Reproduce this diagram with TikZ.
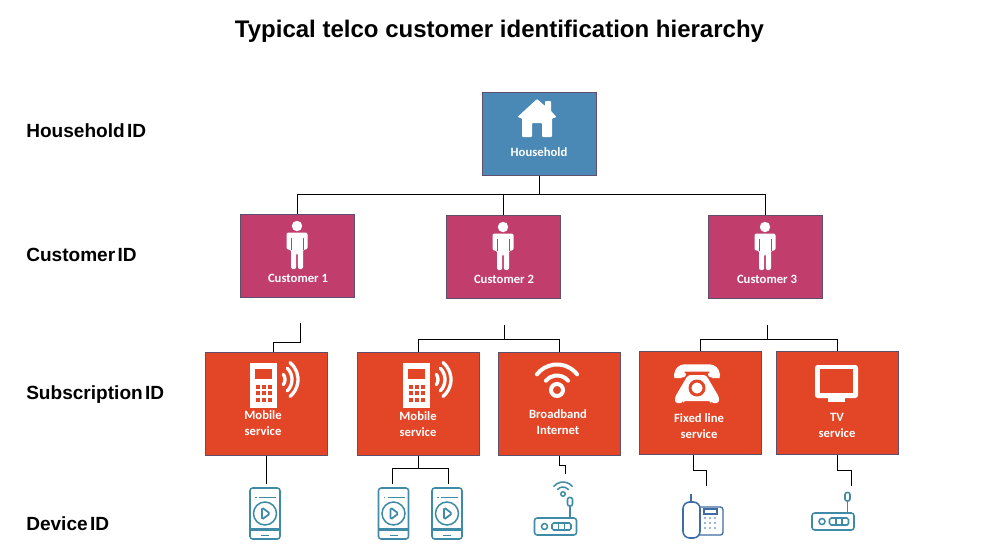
\documentclass[tikz,border=0pt]{standalone}
\usepackage{fontspec}
\setmainfont{Liberation Sans}
\newfontfamily\boxfamily{Carlito}
\newcommand{\idfont}{\fontsize{14.3}{16}\selectfont\bfseries\setlength{\spaceskip}{0.12em}}
\begin{document}
\begin{tikzpicture}[x=0.75pt,y=-0.75pt]
	\definecolor{hhblue}{HTML}{4A88B5}
	\definecolor{custpink}{HTML}{C13D6C}
	\definecolor{svcred}{HTML}{E34527}
	\definecolor{boxedge}{HTML}{5F4F6E}
	\definecolor{devteal}{HTML}{3F8AA6}
	\definecolor{devblue}{HTML}{3F6CA3}
	\tikzstyle{hhbox}=[draw=boxedge,fill=hhblue,line width=0.7pt,minimum width=85.9pt,minimum height=62.7pt,inner sep=0pt]
	\tikzstyle{custbox}=[hhbox,fill=custpink]
	\tikzstyle{svcbox}=[hhbox,fill=svcred,minimum width=91.1pt,minimum height=77.7pt]
	\tikzstyle{idlabel}=[anchor=base west,inner sep=0pt,font=\idfont]
	\tikzstyle{boxtext}=[text=white,align=center,inner sep=0pt,font=\fontsize{9.5}{12}\selectfont\boxfamily\bfseries]
	\tikzstyle{link}=[draw=black,line width=0.85pt]
	\tikzstyle{devline}=[draw=devteal,line width=1.15pt,rounded corners=1.2pt]
	\tikzset{
		houseicon/.pic={
			\fill[white,rounded corners=0.6pt] (0,-19) -- (8,-12) -- (8,-17) -- (14,-17) -- (14,-7) -- (19.5,-1) -- (15,0.5) -- (15,19) -- (5,19) -- (5,5) -- (-5,5) -- (-5,19) -- (-15,19) -- (-15,0.5) -- (-19.5,-1) -- cycle;
		},
		personicon/.pic={
			\fill[white] (0,-18) circle (5.2);
			\fill[white,rounded corners=1.5pt] (-10.5,-11.5) -- (10.5,-11.5) -- (10.5,5.5) -- (6,5.5) -- (6,25) -- (0.8,25) -- (0.8,9) -- (-0.8,9) -- (-0.8,25) -- (-6,25) -- (-6,5.5) -- (-10.5,5.5) -- cycle;
			\draw[custpink,line width=0.5pt] (-6,-6) -- (-6,5.5);
			\draw[custpink,line width=0.5pt] (6,-6) -- (6,5.5);
		},
		mobileicon/.pic={
			\fill[white] (-13.5,-22.5) rectangle (13.5,22.5);
			\fill[svcred] (-8.5,-16.5) rectangle (8.5,-6.5);
			\foreach \kx in {-6,0,6}
				\foreach \ky in {1.5,7.5,14.5}
					\fill[svcred] (\kx-2,\ky-2) rectangle (\kx+2,\ky+2);
			\draw[white,line width=2.5pt,line cap=round] (12.5,-6) ++(-35:9) arc[start angle=-35,end angle=35,radius=9];
			\draw[white,line width=2.5pt,line cap=round] (12.5,-6) ++(-45:16) arc[start angle=-45,end angle=45,radius=16];
			\draw[white,line width=2.5pt,line cap=round] (12.5,-6) ++(-50:22) arc[start angle=-50,end angle=50,radius=22];
		},
		wifiicon/.pic={
			\draw[white,line width=3pt] (0,0) circle (6);
			\draw[white,line width=3pt,line cap=round] (0,0) ++(-40:14.5) arc[start angle=-40,end angle=-140,radius=14.5];
			\draw[white,line width=3pt,line cap=round] (0,0) ++(-38:25.5) arc[start angle=-38,end angle=-142,radius=25.5];
		},
		deskicon/.pic={
			\draw[white,line width=5.5pt,rounded corners=5pt] (-19,-10) -- (-19,-20) -- (19,-20) -- (19,-10);
			\fill[white,rounded corners=2pt] (-23,-16) -- (-11,-16) -- (-11,-11) -- (-23,-10) -- cycle;
			\fill[white,rounded corners=2pt] (23,-16) -- (11,-16) -- (11,-11) -- (23,-10) -- cycle;
			\fill[white,rounded corners=2pt] (-9,-13) -- (9,-13) -- (22,9) -- (22,15) -- (14,15) -- (14,13) -- (-14,13) -- (-14,15) -- (-22,15) -- (-22,9) -- cycle;
			\draw[svcred,line width=2.2pt] (0,0) circle (7);
		},
		screenicon/.pic={
			\fill[white,rounded corners=2pt] (-21.5,-16.5) rectangle (21.5,16.5);
			\fill[white] (-8.5,16) rectangle (8.5,20.5);
			\fill[svcred] (-16.5,-12.5) rectangle (16.5,11.5);
		},
		handseticon/.pic={
			\draw[devline,rounded corners=2pt] (-15,-25.5) rectangle (15,25.5);
			\draw[devline] (-15,15.5) -- (15,15.5);
			\draw[devline] (-15,17) -- (15,17);
			\draw[devline] (-4,22) -- (4,22);
			\draw[devline] (-10,-16) -- (-8.5,-16);
			\draw[devline] (-6,-16) -- (11,-16);
			\draw[devline] (0,0) circle (11.5);
			\draw[devline,line width=1.3pt] (-3,-6) -- (5,0) -- (-3,6) -- cycle;
		},
		routericon/.pic={
			\draw[devline,rounded corners=2pt] (-21,-8.5) rectangle (21,8.5);
			\draw[devline] (-11,0) circle (3);
			\draw[devline] (-3.5,-3.5) rectangle (15.5,3.5);
			\draw[devline] (3,-3.5) -- (3,3.5);
			\draw[devline] (9,-3.5) -- (9,3.5);
			\draw[devline] (14.5,-8.5) -- (14.5,-20.5);
			\draw[devline,rounded corners=1.5pt] (12,-29) rectangle (17,-20.5);
		},
		signalicon/.pic={
			\draw[devline] (0,0) circle (2.2);
			\draw[devline,line cap=round] (0,0) ++(-40:7) arc[start angle=-40,end angle=-140,radius=7];
			\draw[devline,line cap=round] (0,0) ++(-40:12) arc[start angle=-40,end angle=-140,radius=12];
		},
		fixedicon/.pic={
			\draw[draw=devblue,line width=1pt,rounded corners=2pt] (-11,-13) rectangle (20,15);
			\draw[draw=devblue,line width=1.2pt,rounded corners=5pt,fill=white] (-20,-18) rectangle (-3,18);
			\draw[draw=devblue,line width=1pt] (-12,-18) -- (-12,-26);
			\draw[draw=devblue,line width=1pt] (1,-11) rectangle (14,-6);
			\foreach \kx in {2,7,12}
				\foreach \ky in {-2,3,8}
					\fill[devblue] (\kx,\ky) circle (0.9);
		}
	}

	\useasboundingbox (0,0) rectangle (984,553);

	\node [font=\fontsize{18}{22}\selectfont\bfseries,inner sep=0pt] (title) at (499.5,31.5) {Typical telco customer identification hierarchy};

	\node [idlabel] (lblhh) at (26,137) {Household ID};
	\node [idlabel] (lblcust) at (26,261) {Customer ID};
	\node [idlabel] (lblsub) at (26,399) {Subscription ID};
	\node [idlabel] (lbldev) at (26,530) {Device ID};

	\node [hhbox] (hh) at (539.5,134) {};
	\node [custbox] (c1) at (297.5,256) {};
	\node [custbox] (c2) at (503.5,257) {};
	\node [custbox] (c3) at (765.5,257) {};
	\node [svcbox] (mob1) at (266.5,404) {};
	\node [svcbox] (mob2) at (418.5,404) {};
	\node [svcbox] (bb) at (559.5,404) {};
	\node [svcbox] (fx) at (700.5,403) {};
	\node [svcbox] (tv) at (837.5,403) {};

	\pic at (537,118) {houseicon};
	\pic at (297,244) {personicon};
	\pic at (503,245) {personicon};
	\pic at (765,245) {personicon};
	\pic at (263.5,385.5) {mobileicon};
	\pic at (416.5,385.5) {mobileicon};
	\pic at (557,390) {wifiicon};
	\pic at (697,388) {deskicon};
	\pic at (836.5,381.5) {screenicon};

	\node [boxtext] (hhtxt) at (539,152) {Household};
	\node [boxtext] (c1txt) at (298,278) {Customer 1};
	\node [boxtext] (c2txt) at (504,279) {Customer 2};
	\node [boxtext] (c3txt) at (767,279) {Customer 3};
	\node [boxtext] (mob1txt) at (263,423) {Mobile\\service};
	\node [boxtext] (mob2txt) at (418,424) {Mobile\\service};
	\node [boxtext] (bbtxt) at (558,422) {Broadband\\Internet};
	\node [boxtext] (fxtxt) at (699,426) {Fixed line\\service};
	\node [boxtext] (tvtxt) at (837,425) {TV\\service};

	\pic at (265,513.5) {handseticon};
	\pic at (393.5,513.5) {handseticon};
	\pic at (447,513.5) {handseticon};
	\pic at (555.5,526.5) {routericon};
	\pic at (563,494) {signalicon};
	\pic at (703,520) {fixedicon};
	\pic at (833,521.5) {routericon};

	\coordinate (hhbus) at (539.5,194.5);
	\coordinate (c1stub) at (300.5,323);
	\coordinate (c1bend) at (273.5,342.5);
	\coordinate (mob1in) at (273.5,352);
	\coordinate (c2stub) at (504.5,325);
	\coordinate (c2bus) at (504.5,339.5);
	\coordinate (c3stub) at (767.5,325);
	\coordinate (c3bus) at (767.5,339.5);
	\coordinate (dev1) at (266.5,484);
	\coordinate (mob2bus) at (418.5,468.5);
	\coordinate (dev2) at (392.5,484);
	\coordinate (dev3) at (448.5,484);
	\coordinate (bbbend) at (559.5,465.5);
	\coordinate (dev4) at (565.5,474);
	\coordinate (fxout) at (693.5,455);
	\coordinate (fxbend) at (693.5,470.5);
	\coordinate (dev5) at (706.5,486);
	\coordinate (tvbend) at (837.5,470.5);
	\coordinate (dev6) at (851.5,486);

	\path[link] (hh.south) -- (hhbus);
	\path[link] (hhbus) -| (c1.north);
	\path[link] (hhbus) -| (c2.north);
	\path[link] (hhbus) -| (c3.north);
	\path[link] (c1stub) |- (c1bend) -- (mob1in);
	\path[link] (c2stub) -- (c2bus);
	\path[link] (c2bus) -| (mob2.north);
	\path[link] (c2bus) -| (bb.north);
	\path[link] (c3stub) -- (c3bus);
	\path[link] (c3bus) -| (fx.north);
	\path[link] (c3bus) -| (tv.north);
	\path[link] (mob1.south) -- (dev1);
	\path[link] (mob2.south) -- (mob2bus);
	\path[link] (mob2bus) -| (dev2);
	\path[link] (mob2bus) -| (dev3);
	\path[link] (bb.south) -- (bbbend) -| (dev4);
	\path[link] (fxout) -- (fxbend) -| (dev5);
	\path[link] (tv.south) -- (tvbend) -| (dev6);
\end{tikzpicture}
\end{document}
